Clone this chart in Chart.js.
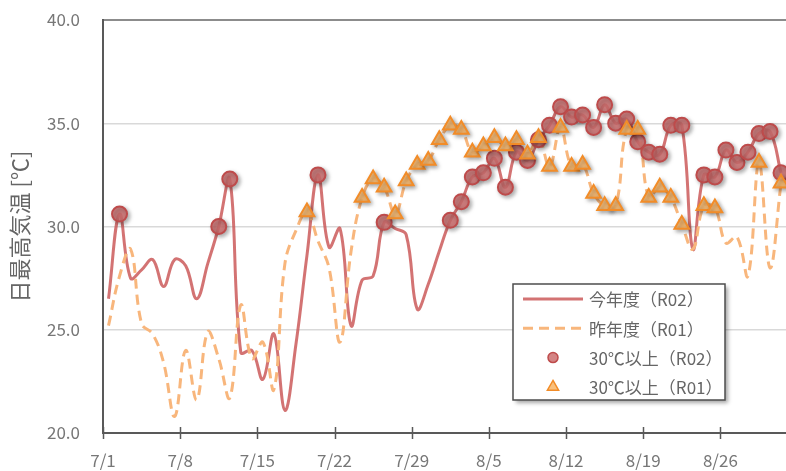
<!DOCTYPE html>
<html>
<head>
<meta charset="utf-8">
<script src="https://cdn.jsdelivr.net/npm/chart.js@4/dist/chart.umd.min.js"></script>
<style>
  html, body { margin: 0; padding: 0; background: #fff; overflow: hidden; }
  canvas { display: block; }
</style>
</head>
<body>
<canvas id="chart" width="786" height="471"></canvas>
<script>
// Daily maximum temperature, July 1 onward (one value per day)
const tickLabels = ['7/1', '7/8', '7/15', '7/22', '7/29', '8/5', '8/12', '8/19', '8/26'];

const tmaxR02 = [
  26.5, 30.6, 27.5, 27.9, 28.4, 27.1, 28.4, 28.1, 26.5, 28.2,
  30.0, 32.3, 23.9, 24.0, 22.6, 24.8, 21.1, 24.3, 28.6, 32.5,
  29.0, 29.9, 25.2, 27.4, 27.6, 30.2, 29.9, 29.6, 26.0, 27.2,
  28.8, 30.3, 31.2, 32.4, 32.6, 33.3, 31.9, 33.6, 33.2, 34.2,
  34.9, 35.8, 35.3, 35.4, 34.8, 35.9, 35.0, 35.2, 34.1, 33.6,
  33.5, 34.9, 34.9, 28.9, 32.5, 32.4, 33.7, 33.1, 33.6, 34.5,
  34.6, 32.6
];

const tmaxR01 = [
  25.2, 27.6, 28.9, 25.3, 24.8, 23.4, 20.8, 24.0, 21.6, 24.9,
  23.6, 21.7, 26.2, 23.6, 24.4, 22.1, 28.2, 29.8, 30.7, 29.3,
  28.0, 24.4, 28.8, 31.4, 32.3, 31.9, 30.6, 32.2, 33.0, 33.2,
  34.2, 34.9, 34.7, 33.6, 33.9, 34.3, 33.9, 34.2, 33.5, 34.3,
  32.9, 34.8, 32.9, 33.0, 31.6, 31.0, 31.0, 34.7, 34.7, 31.4,
  31.9, 31.4, 30.1, 28.9, 31.0, 30.9, 29.2, 29.5, 27.6, 33.1,
  28.0, 32.1
];

const seriesNames = ['今年度（R02）', '昨年度（R01）', '30℃以上（R02）', '30℃以上（R01）'];
const hotThreshold = 30;

const FONT = '"Noto Sans CJK JP", "Noto Sans", sans-serif';

// each day sits in the middle of its slot on the date axis
const toPoints = arr => arr.map((v, i) => ({ x: i + 0.5, y: v }));
const hotPoints = arr => arr.map((v, i) => ({ x: i + 0.5, y: v >= hotThreshold ? v : null }));

// drop shadow behind the marker series
const markerShadow = {
  id: 'markerShadow',
  beforeDatasetDraw(chart, args) {
    const ds = chart.data.datasets[args.index];
    if (!ds.shadow) return;
    const ctx = chart.ctx;
    ctx.save();
    ctx.shadowColor = 'rgba(0,0,0,0.35)';
    ctx.shadowBlur = 4;
    ctx.shadowOffsetX = 2;
    ctx.shadowOffsetY = 2;
  },
  afterDatasetDraw(chart, args) {
    const ds = chart.data.datasets[args.index];
    if (ds.shadow) chart.ctx.restore();
  }
};

// tick marks crossing the date axis
const crossTicks = {
  id: 'crossTicks',
  afterDraw(chart) {
    const x = chart.scales.x;
    const ctx = chart.ctx;
    const y0 = chart.chartArea.bottom;
    ctx.save();
    ctx.strokeStyle = '#595959';
    ctx.lineWidth = 1.5;
    x.ticks.forEach(t => {
      const px = Math.round(x.getPixelForValue(t.value)) + 0.5;
      ctx.beginPath();
      ctx.moveTo(px, y0 - 6);
      ctx.lineTo(px, y0 + 6);
      ctx.stroke();
    });
    ctx.restore();
  }
};

// boxed legend inside the plot
const boxLegend = {
  id: 'boxLegend',
  afterDraw(chart, args, opts) {
    const ctx = chart.ctx;
    const { left, top, width, height, rowTop, rowGap, sampleX, sampleW, textX } = opts;
    ctx.save();
    ctx.shadowColor = 'rgba(0,0,0,0.35)';
    ctx.shadowBlur = 4;
    ctx.shadowOffsetX = 3;
    ctx.shadowOffsetY = 3;
    ctx.fillStyle = '#ffffff';
    ctx.fillRect(left, top, width, height);
    ctx.restore();

    ctx.save();
    ctx.strokeStyle = '#4d4d4d';
    ctx.lineWidth = 1.5;
    ctx.strokeRect(left, top, width, height);

    ctx.font = '17px ' + FONT;
    ctx.textBaseline = 'middle';
    ctx.textAlign = 'left';
    chart.data.datasets.forEach((ds, i) => {
      const cy = top + rowTop + i * rowGap;
      if (ds.showLine !== false) {
        ctx.save();
        ctx.strokeStyle = ds.borderColor;
        ctx.lineWidth = ds.borderWidth;
        ctx.setLineDash(ds.borderDash || []);
        ctx.beginPath();
        ctx.moveTo(sampleX, cy);
        ctx.lineTo(sampleX + sampleW, cy);
        ctx.stroke();
        ctx.restore();
      } else {
        ctx.save();
        ctx.fillStyle = ds.backgroundColor;
        ctx.strokeStyle = ds.borderColor;
        ctx.lineWidth = 1.5;
        Chart.helpers.drawPoint(ctx, {
          pointStyle: ds.pointStyle,
          radius: ds.pointStyle === 'triangle' ? 6.5 : 5,
          borderWidth: 1.5,
          rotation: 0
        }, sampleX + sampleW / 2, cy);
        ctx.restore();
      }
      ctx.fillStyle = '#666666';
      ctx.fillText(ds.label, textX, cy + 1);
    });
    ctx.restore();
  }
};

new Chart(document.getElementById('chart'), {
  type: 'line',
  data: {
    datasets: [
      {
        label: seriesNames[0],
        data: toPoints(tmaxR02),
        borderColor: 'rgba(200,80,80,0.8)',
        borderWidth: 3,
        pointRadius: 0,
        tension: 0.4,
        order: 4
      },
      {
        label: seriesNames[1],
        data: toPoints(tmaxR01),
        borderColor: '#F8B67C',
        borderWidth: 3,
        borderDash: [10, 6],
        pointRadius: 0,
        tension: 0.4,
        order: 3
      },
      {
        label: seriesNames[2],
        data: hotPoints(tmaxR02),
        showLine: false,
        pointStyle: 'circle',
        pointRadius: 7.5,
        pointBorderWidth: 2,
        backgroundColor: 'rgba(205,110,110,0.85)',
        borderColor: '#BE4B4B',
        shadow: true,
        order: 2
      },
      {
        label: seriesNames[3],
        data: hotPoints(tmaxR01),
        showLine: false,
        pointStyle: 'triangle',
        pointRadius: 8.5,
        pointBorderWidth: 2,
        backgroundColor: 'rgba(250,185,110,0.9)',
        borderColor: '#F28C28',
        shadow: true,
        order: 1
      }
    ]
  },
  options: {
    responsive: false,
    animation: false,
    devicePixelRatio: 1,
    layout: { autoPadding: false, padding: { top: 20, right: 0, bottom: 0, left: 0 } },
    plugins: {
      legend: { display: false },
      tooltip: { enabled: false },
      boxLegend: {
        left: 513, top: 284, width: 212, height: 116,
        rowTop: 15, rowGap: 29.3, sampleX: 523, sampleW: 60, textX: 589
      }
    },
    scales: {
      x: {
        type: 'linear',
        bounds: 'data',
        min: 0,
        max: 61.95,
        afterBuildTicks: s => { s.ticks = tickLabels.map((_, k) => ({ value: k * 7 })); },
        afterFit: s => { s.height = 38; s.paddingLeft = 0; s.paddingRight = 0; },
        grid: { display: false, drawTicks: false },
        border: { display: true, color: '#595959', width: 2 },
        ticks: {
          autoSkip: false,
          maxRotation: 0,
          padding: 17,
          color: '#777777',
          font: { family: FONT, size: 17 },
          callback: v => tickLabels[Math.round(v / 7)]
        }
      },
      y: {
        min: 20,
        max: 40,
        afterFit: s => { s.width = 103; s.paddingTop = 0; s.paddingBottom = 0; },
        grid: {
          drawTicks: false,
          color: c => c.tick.value === 40 ? '#8c8c8c' : (c.tick.value === 20 ? 'rgba(0,0,0,0)' : '#d9d9d9'),
          lineWidth: c => c.tick.value === 40 ? 2 : 1.5
        },
        border: { display: true, color: '#595959', width: 2 },
        ticks: {
          stepSize: 5,
          padding: 23,
          color: '#777777',
          font: { family: FONT, size: 17 },
          callback: v => v.toFixed(1)
        },
        title: {
          display: true,
          text: '日最高気温 [℃]',
          color: '#666666',
          font: { family: FONT, size: 22 },
          padding: { top: 6, bottom: 0 }
        }
      }
    }
  },
  plugins: [markerShadow, crossTicks, boxLegend]
});
</script>
</body>
</html>
